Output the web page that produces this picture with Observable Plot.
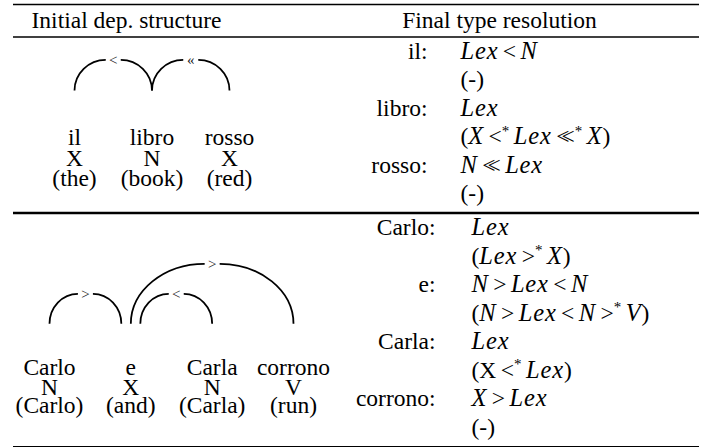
<!DOCTYPE html>
<html>
<head>
<meta charset="utf-8">
<script src="https://cdn.jsdelivr.net/npm/d3@7"></script>
<script src="https://cdn.jsdelivr.net/npm/@observablehq/plot@0.6"></script>
<style>
  html, body { margin: 0; padding: 0; background: #fff; }
  svg text, svg tspan { font-family: "Liberation Serif", "Times New Roman", "DejaVu Serif", serif; }
</style>
</head>
<body>
<div id="chart"></div>
<script>
// ---------------- data ----------------
const headers = ["Initial dep. structure", "Final type resolution"];

const tree1Words   = ["il", "libro", "rosso"];
const tree1Tags    = ["X", "N", "X"];
const tree1Glosses = ["(the)", "(book)", "(red)"];
const tree1Arcs    = [
  {from: 0, to: 1, label: "<"},
  {from: 1, to: 2, label: "«"}
];

const tree2Words   = ["Carlo", "e", "Carla", "corrono"];
const tree2Tags    = ["N", "X", "N", "V"];
const tree2Glosses = ["(Carlo)", "(and)", "(Carla)", "(run)"];
const tree2Arcs    = [
  {from: 0, to: 1, label: ">"},
  {from: 1, to: 3, label: ">"},
  {from: 1, to: 2, label: "<"}
];

// "^*" = superscript star, "{X}" = roman letter, other letters are math italic
const res1Words = ["il:", "libro:", "rosso:"];
const res1Types = ["Lex<N", "Lex", "N≪Lex"];
const res1Deps  = ["(-)", "(X<^*Lex≪^*X)", "(-)"];

const res2Words = ["Carlo:", "e:", "Carla:", "corrono:"];
const res2Types = ["Lex", "N>Lex<N", "Lex", "X>Lex"];
const res2Deps  = ["(Lex>^*X)", "(N>Lex<N>^*V)", "({X}<^*Lex)", "(-)"];

// ---------------- layout (not data) ----------------
const FONT = "Liberation Serif, Times New Roman, DejaVu Serif, serif";
const FS = 23.5;
const layout = {
  ruleX: [13, 699],
  rules: [[4, 1.7], [36.5, 1.6], [212.5, 2.4], [446, 1.2]],
  headerY: 27.5, headerX: [126, 499],
  trees: [
    {x0: 74, step: 77.5, lineY: [144, 165.5, 185], footY: 90, levelH: 30.7},
    {x0: 49, step: 81.33, lineY: [374, 394, 412.5], footY: 323.3, levelH: 30}
  ],
  res: [
    {labelX: 427, valueX: 460, y0: 58, pitch: 28.5},
    {labelX: 435, valueX: 471, y0: 234.5, pitch: 28.5}
  ],
  footSpread: 9.5, labelGap: 7.5, rel: 4.5, llOverlap: 8
};

// ---------------- build tables ----------------
const ruleData = layout.rules.map(([y, w]) => ({y, w}));
const headerData = headers.map((t, i) => ({x: layout.headerX[i], y: layout.headerY, text: t}));

const trees = [
  {words: tree1Words, tags: tree1Tags, glosses: tree1Glosses, arcs: tree1Arcs},
  {words: tree2Words, tags: tree2Tags, glosses: tree2Glosses, arcs: tree2Arcs}
];

const wordText = [], arcHalves = [], arcLabels = [];
trees.forEach((t, ti) => {
  const L = layout.trees[ti];
  const pos = i => L.x0 + L.step * i;
  [t.words, t.tags, t.glosses].forEach((line, li) =>
    line.forEach((s, i) => wordText.push({x: pos(i), y: L.lineY[li], text: s})));

  const arcs = t.arcs.map(a => ({...a, lo: Math.min(a.from, a.to), hi: Math.max(a.from, a.to)}));
  const level = a => 1 + Math.max(0, ...arcs.filter(b => b !== a && b.lo >= a.lo && b.hi <= a.hi).map(level));
  const ends = {};
  arcs.forEach(a => {
    (ends[a.lo] ??= []).push({a, side: "lo"});
    (ends[a.hi] ??= []).push({a, side: "hi"});
  });
  Object.entries(ends).forEach(([n, list]) => {
    const his = list.filter(e => e.side === "hi").sort((p, q) => (p.a.hi - p.a.lo) - (q.a.hi - q.a.lo));
    const los = list.filter(e => e.side === "lo").sort((p, q) => (q.a.hi - q.a.lo) - (p.a.hi - p.a.lo));
    const ordered = [...his, ...los];
    const sp = ordered.length >= 3 ? layout.footSpread : 0;
    ordered.forEach((e, k) => { e.a[e.side + "Off"] = (k - (ordered.length - 1) / 2) * sp; });
  });
  arcs.forEach(a => {
    const xa = pos(a.lo) + (a.loOff || 0), xb = pos(a.hi) + (a.hiOff || 0);
    const mid = (xa + xb) / 2;
    const top = L.footY - level(a) * L.levelH;
    arcHalves.push({x1: xa, y1: L.footY, x2: mid - layout.labelGap, y2: top});
    arcHalves.push({x1: xb, y1: L.footY, x2: mid + layout.labelGap, y2: top});
    arcLabels.push({x: mid, y: top + 5, text: a.label});
  });
});

const resSections = [
  {words: res1Words, types: res1Types, deps: res1Deps},
  {words: res2Words, types: res2Types, deps: res2Deps}
];
const resLabels = [], resValues = [];
resSections.forEach((s, si) => {
  const L = layout.res[si];
  s.words.forEach((w, i) => {
    resLabels.push({x: L.labelX, y: L.y0 + L.pitch * 2 * i, text: w});
    resValues.push({x: L.valueX, y: L.y0 + L.pitch * 2 * i, text: s.types[i]});
    resValues.push({x: L.valueX, y: L.y0 + L.pitch * (2 * i + 1), text: s.deps[i]});
  });
});

// quarter-ellipse curve: vertical tangent at first point, horizontal at second
function quarterCurve(context) {
  let pts = [];
  return {
    areaStart() {}, areaEnd() {},
    lineStart() { pts = []; },
    point(x, y) { pts.push([+x, +y]); },
    lineEnd() {
      if (pts.length < 2) return;
      const [[x0, y0], [x1, y1]] = pts;
      const k = 0.5523;
      context.moveTo(x0, y0);
      context.bezierCurveTo(x0, y0 + (y1 - y0) * k, x1 + (x0 - x1) * k, y1, x1, y1);
    }
  };
}

const txt = {lineAnchor: "bottom", fontFamily: FONT};
const plot = Plot.plot({
  width: 711, height: 448, margin: 0,
  x: {domain: [0, 711], range: [0, 711], axis: null},
  y: {domain: [0, 448], range: [0, 448], axis: null},
  style: {fontFamily: FONT, fontSize: FS + "px", background: "white", color: "black", overflow: "visible"},
  marks: [
    Plot.ruleY(ruleData, {y: "y", x1: () => layout.ruleX[0], x2: () => layout.ruleX[1], strokeWidth: "w", stroke: "black"}),
    Plot.text(headerData, {...txt, x: "x", y: "y", text: "text", textAnchor: "middle", fontSize: FS}),
    Plot.link(arcHalves, {x1: "x1", y1: "y1", x2: "x2", y2: "y2", curve: quarterCurve, stroke: "black", strokeWidth: 1.8}),
    Plot.text(arcLabels, {...txt, x: "x", y: "y", text: "text", textAnchor: "middle", fontSize: 15, fill: "#222"}),
    Plot.text(wordText, {...txt, x: "x", y: "y", text: "text", textAnchor: "middle", fontSize: FS}),
    Plot.text(resLabels, {...txt, x: "x", y: "y", text: "text", textAnchor: "end", fontSize: FS}),
    Plot.text(resValues, {...txt, x: "x", y: "y", text: "text", textAnchor: "start", fontSize: FS, ariaLabel: "math"})
  ]
});

// math typesetting of the resolution values
const SVGNS = "http://www.w3.org/2000/svg";
function renderMath(el, s) {
  const toks = [];
  for (let i = 0; i < s.length; i++) {
    const c = s[i];
    if (c === "^") { toks.push({t: s[i + 1], kind: "sup"}); i++; }
    else if (c === "{") { const j = s.indexOf("}", i); toks.push({t: s.slice(i + 1, j), kind: "roman"}); i = j; }
    else if (/[A-Za-z]/.test(c)) toks.push({t: c, kind: "it"});
    else if ("<>≪".includes(c)) toks.push({t: c, kind: "rel"});
    else toks.push({t: c, kind: "roman"});
  }
  el.textContent = "";
  let pending = 0, raised = false, carry = 0;
  const add = (t, attrs) => {
    const ts = document.createElementNS(SVGNS, "tspan");
    ts.textContent = t;
    for (const [k, v] of Object.entries(attrs)) if (v !== 0 && v != null) ts.setAttribute(k, v);
    el.appendChild(ts);
  };
  toks.forEach(tok => {
    let dx = carry, dy = 0;
    carry = 0;
    if (tok.kind === "sup") { dy = -8.5; raised = true; }
    else if (raised) { dy = 8.5; raised = false; }
    if (tok.kind === "rel") { dx += layout.rel; pending = layout.rel; }
    else if (tok.kind !== "sup" && pending) { dx += pending; pending = 0; }
    if (tok.kind === "sup") add(tok.t, {dx, dy, "font-size": 15});
    else if (tok.kind === "it") add(tok.t, {dx, dy, "font-style": "italic", "font-size": 24.5, "letter-spacing": 0.8});
    else if (tok.kind === "rel" && tok.t === "≪") {
      // much-less-than drawn as two tightly nested "<" in one run
      add("<<", {dx, dy, "letter-spacing": -layout.llOverlap});
      carry = layout.llOverlap;
    }
    else add(tok.t, {dx, dy});
  });
}
const mathSet = new Set(resValues.map(d => d.text));
d3.select(plot).selectAll("text").each(function () {
  if (this.childElementCount === 0 && mathSet.has(this.textContent)) renderMath(this, this.textContent);
});
d3.select(plot).style("font-family", FONT);

document.getElementById("chart").appendChild(plot);
</script>
</body>
</html>
